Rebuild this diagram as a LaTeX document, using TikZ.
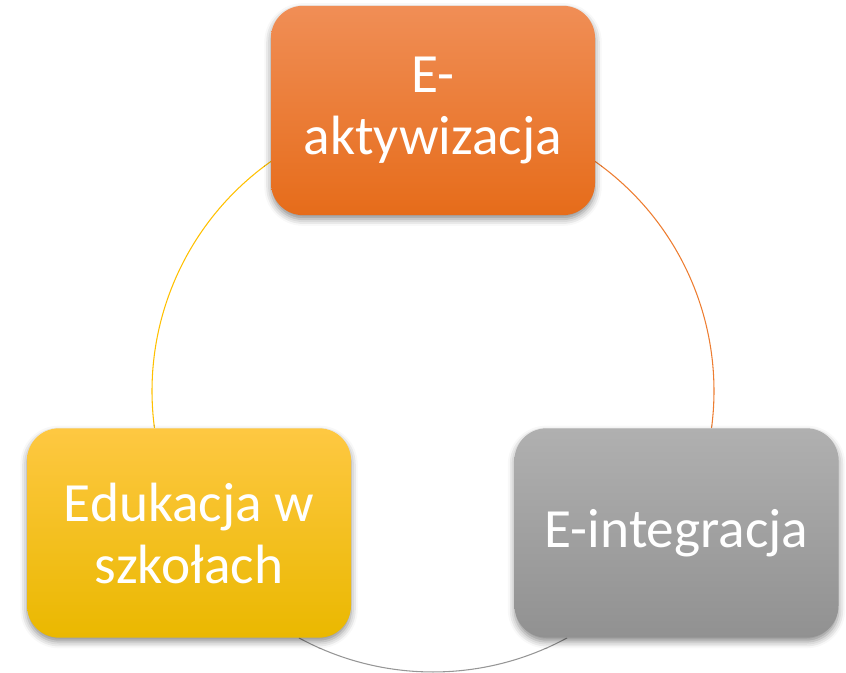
\documentclass[tikz,border=0pt]{standalone}
\usepackage{fontspec}
\setmainfont{Carlito}
\usetikzlibrary{shadows.blur}
\definecolor{orT}{RGB}{240,142,86}
\definecolor{orM}{RGB}{242,125,40}
\definecolor{orB}{RGB}{230,108,26}
\definecolor{yeT}{RGB}{254,200,66}
\definecolor{yeM}{RGB}{255,192,0}
\definecolor{yeB}{RGB}{234,184,0}
\definecolor{grT}{RGB}{176,176,176}
\definecolor{grM}{RGB}{165,165,165}
\definecolor{grB}{RGB}{145,145,145}
\definecolor{arcY}{RGB}{255,192,0}
\definecolor{arcO}{RGB}{237,125,49}
\definecolor{arcG}{RGB}{150,150,150}
\tikzset{
  box/.style={rounded corners=24pt, minimum width=243pt, minimum height=157pt,
    text=white, align=center, font=\fontsize{41.5}{46.5}\selectfont,
    blur shadow={shadow xshift=0pt, shadow yshift=-3pt, shadow blur radius=5pt, shadow opacity=45}},
  orangebox/.style={box, top color=orT, middle color=orM, bottom color=orB},
  yellowbox/.style={box, top color=yeT, middle color=yeM, bottom color=yeB},
  graybox/.style={box, top color=grT, middle color=grM, bottom color=grB},
  cyc/.style={line width=0.8pt}
}
\begin{document}
\begin{tikzpicture}[x=0.75pt,y=0.75pt]
\useasboundingbox (0,0) rectangle (846,673);
\coordinate (c) at (433,282);
\draw[cyc, arcY] (c) ++(187.6:281) arc[start angle=187.6, end angle=125.2, radius=281];
\draw[cyc, arcO] (c) ++(54.8:281) arc[start angle=54.8, end angle=-7.6, radius=281];
\draw[cyc, arcG] (c) ++(-61.5:281) arc[start angle=-61.5, end angle=-118.5, radius=281];
\node[orangebox] (akt) at (433,562.5) {E-\\aktywizacja};
\node[yellowbox] (edu) at (189,140) {Edukacja w\\szkołach};
\node[graybox] (int) at (676.5,140) {E-integracja};
\end{tikzpicture}
\end{document}
